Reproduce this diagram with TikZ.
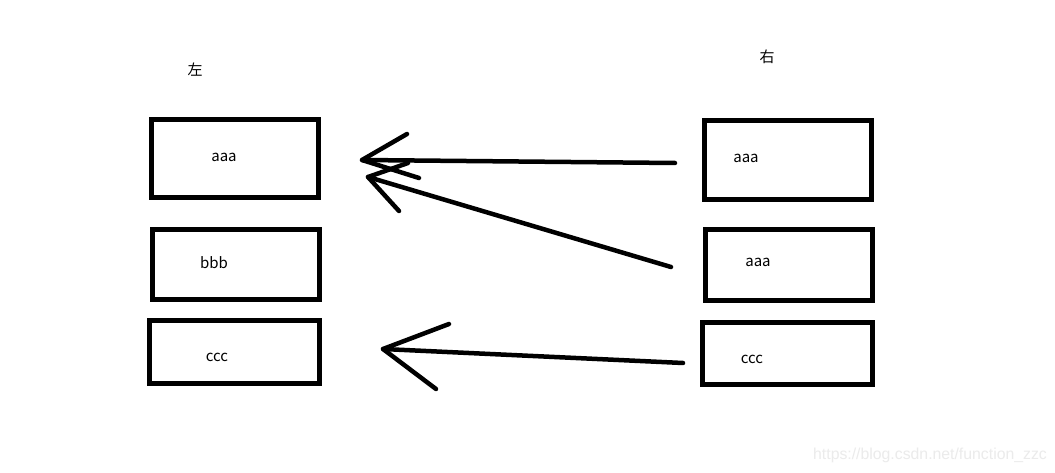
\documentclass[tikz,border=0pt]{standalone}
\usepackage{fontspec}
\setmainfont{Noto Sans CJK SC}
\newfontfamily\wmfont{Liberation Sans}
\begin{document}
\begin{tikzpicture}[x=1pt,y=-1pt,
  box/.style={draw=black,line width=5pt,inner sep=0pt,outer sep=0pt},
  lbl/.style={inner sep=0pt,font=\fontsize{15}{17}\selectfont},
  cjk/.style={inner sep=0pt,font=\fontsize{15}{17}\selectfont},
  stroke/.style={line width=4.5pt,line cap=round,line join=round}]
\useasboundingbox[fill=white] (0,0) rectangle (1055,473);
% boxes
\node[box,minimum width=167pt,minimum height=78pt] (l1) at (235,158.5) {};
\node[box,minimum width=167pt,minimum height=70pt] (l2) at (236,264.5) {};
\node[box,minimum width=170pt,minimum height=63pt] (l3) at (234.5,352) {};
\node[box,minimum width=167pt,minimum height=79pt] (r1) at (788,160) {};
\node[box,minimum width=167pt,minimum height=71pt] (r2) at (789,265) {};
\node[box,minimum width=170pt,minimum height=62pt] (r3) at (787.5,353.5) {};
% texts
\node[cjk] (tl) at (195,70) {左};
\node[cjk] (tr) at (767,57) {右};
\node[lbl] (t1) at (224,157) {aaa};
\node[lbl] (t2) at (214,263) {bbb};
\node[lbl] (t3) at (217,357) {ccc};
\node[lbl] (t4) at (746,158) {aaa};
\node[lbl] (t5) at (758,262) {aaa};
\node[lbl] (t6) at (752,359) {ccc};
% arrow points
\coordinate (a1s) at (675,163);
\coordinate (a1t) at (362,160);
\coordinate (a1h) at (407,134);
\coordinate (a1k) at (419,178);
\coordinate (a2s) at (671,267);
\coordinate (a2t) at (368,177);
\coordinate (a2h) at (408,163);
\coordinate (a2k) at (399,211);
\coordinate (a3s) at (683,363);
\coordinate (a3t) at (383,349);
\coordinate (a3h) at (449,324);
\coordinate (a3k) at (436,389);
\draw[stroke] (a1s) -- (a1t);
\draw[stroke] (a1h) -- (a1t) -- (a1k);
\draw[stroke] (a2s) -- (a2t);
\draw[stroke] (a2h) -- (a2t) -- (a2k);
\draw[stroke] (a3s) -- (a3t);
\draw[stroke] (a3h) -- (a3t) -- (a3k);
% watermark
\node[inner sep=0pt,text=black!8,font=\wmfont\fontsize{15.8}{18}\selectfont] (wm) at (930,455) {https://blog.csdn.net/function\_zzc};
\end{tikzpicture}
\end{document}
